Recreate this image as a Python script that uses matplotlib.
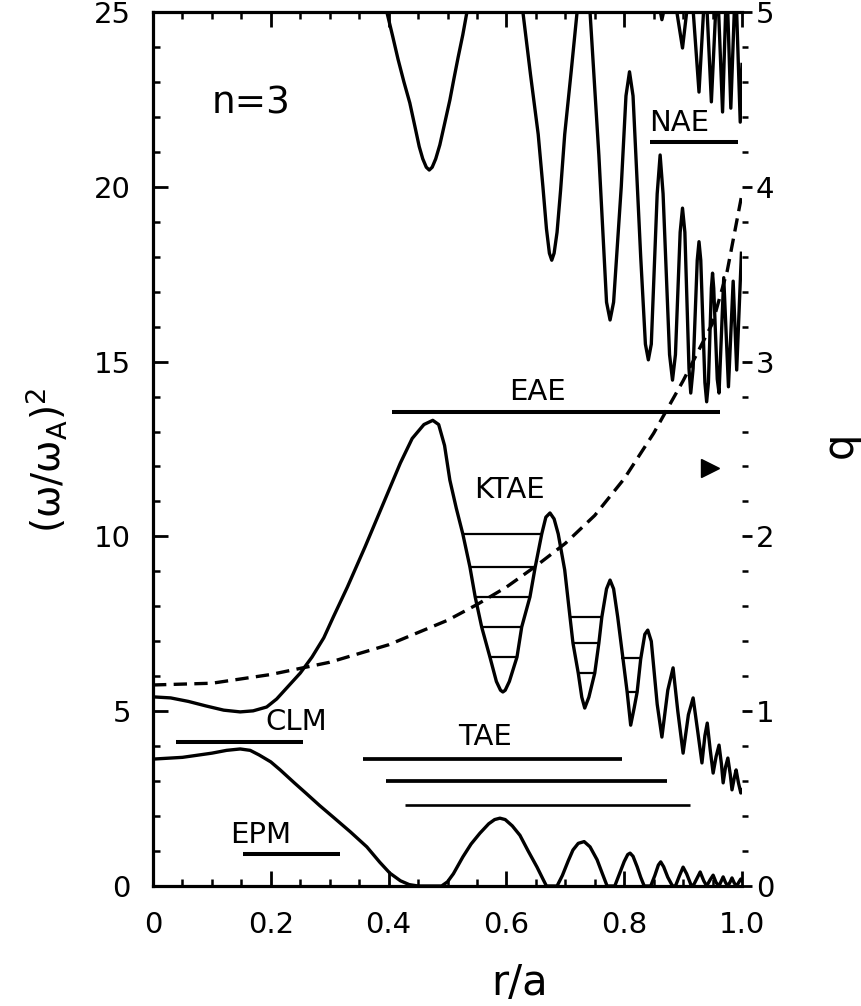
import numpy as np
import matplotlib
matplotlib.use('Agg')
import matplotlib.pyplot as plt
from matplotlib.ticker import MultipleLocator

# lower continuum branch
r_low = [0.0, 0.05, 0.10, 0.125, 0.148, 0.165, 0.18, 0.20, 0.216, 0.24, 0.26, 0.283, 0.306, 0.335,
         0.363, 0.385, 0.402, 0.42, 0.435, 0.45, 0.49,
         0.50, 0.51, 0.526, 0.54, 0.555, 0.57, 0.58, 0.589, 0.598, 0.61, 0.623, 0.637, 0.652, 0.662,
         0.668, 0.686, 0.695, 0.705, 0.713, 0.722, 0.732, 0.742, 0.754, 0.763, 0.771,
         0.784, 0.792, 0.800, 0.806, 0.810, 0.815, 0.822, 0.828, 0.834,
         0.845, 0.852, 0.858, 0.862, 0.867, 0.874, 0.882,
         0.887, 0.894, 0.900, 0.906, 0.913, 0.917,
         0.923, 0.929, 0.935, 0.940, 0.946, 0.951, 0.956, 0.961, 0.965, 0.968, 0.972, 0.976,
         0.980, 0.983, 0.987, 0.991, 0.995, 0.998, 1.0]
w_low = [3.63, 3.68, 3.80, 3.88, 3.92, 3.88, 3.75, 3.55, 3.32, 2.95, 2.65, 2.30, 1.97, 1.55,
         1.12, 0.68, 0.37, 0.15, 0.04, 0.0, 0.0,
         0.12, 0.35, 0.83, 1.20, 1.51, 1.78, 1.90, 1.94, 1.90, 1.72, 1.45, 1.00, 0.54, 0.20,
         0.0, 0.0, 0.30, 0.72, 1.03, 1.22, 1.27, 1.12, 0.75, 0.35, 0.0,
         0.0, 0.35, 0.70, 0.90, 0.94, 0.85, 0.55, 0.25, 0.0,
         0.0, 0.30, 0.60, 0.69, 0.55, 0.25, 0.0,
         0.0, 0.30, 0.54, 0.35, 0.05, 0.0,
         0.20, 0.40, 0.15, 0.0, 0.18, 0.31, 0.10, 0.0, 0.15, 0.26, 0.10, 0.0,
         0.12, 0.23, 0.08, 0.0, 0.12, 0.20, 0.15]

# middle continuum branch
r_mid = [0.0, 0.03, 0.06, 0.09, 0.12, 0.148, 0.17, 0.193, 0.21, 0.23, 0.25, 0.27, 0.29, 0.306,
         0.33, 0.36, 0.39, 0.42, 0.44, 0.46, 0.475, 0.485, 0.495, 0.504, 0.515,
         0.526, 0.538, 0.547, 0.558, 0.572, 0.583, 0.590, 0.594, 0.598, 0.605, 0.618,
         0.626, 0.640, 0.649, 0.660, 0.667, 0.674, 0.681, 0.688, 0.699, 0.708, 0.713, 0.722,
         0.728, 0.733, 0.740, 0.750, 0.757, 0.762, 0.770, 0.776, 0.782, 0.789, 0.798, 0.805,
         0.811, 0.817, 0.822, 0.828, 0.835, 0.840, 0.846, 0.856, 0.864, 0.874, 0.883, 0.891,
         0.900, 0.909, 0.917, 0.925, 0.932, 0.937, 0.941, 0.946, 0.951, 0.956, 0.961, 0.965,
         0.968, 0.972, 0.976, 0.980, 0.983, 0.987, 0.990, 0.994, 0.998, 1.0]
w_mid = [5.41, 5.38, 5.28, 5.15, 5.03, 4.98, 5.01, 5.12, 5.35, 5.72, 6.09, 6.55, 7.10, 7.69,
         8.55, 9.70, 10.90, 12.10, 12.80, 13.20, 13.32, 13.20, 12.60, 11.61, 10.80,
         10.07, 9.13, 8.27, 7.41, 6.55, 5.85, 5.60, 5.55, 5.60, 5.85, 6.55,
         7.41, 8.27, 9.13, 10.07, 10.55, 10.67, 10.50, 10.07, 9.04, 7.69, 6.95, 6.09,
         5.40, 5.09, 5.40, 6.09, 6.95, 7.69, 8.50, 8.75, 8.50, 7.69, 6.49, 5.55,
         4.60, 5.10, 5.55, 6.49, 7.20, 7.32, 7.00, 5.20, 4.26, 5.60, 6.24, 5.00,
         3.80, 4.90, 5.38, 4.40, 3.52, 4.30, 4.66, 3.90, 3.23, 3.70, 4.03, 3.50,
         2.95, 3.40, 3.66, 3.20, 2.75, 3.10, 3.32, 2.95, 2.66, 2.75]

# upper continuum branch
r_up = [0.385, 0.397, 0.407, 0.416, 0.426, 0.436, 0.445, 0.452, 0.458, 0.464, 0.469, 0.474, 0.480,
        0.487, 0.495, 0.504, 0.511, 0.518, 0.526, 0.533, 0.545,
        0.58, 0.615, 0.628, 0.641, 0.654, 0.662, 0.668, 0.673, 0.677, 0.681, 0.686, 0.692, 0.699,
        0.710, 0.720, 0.731, 0.742, 0.757,
        0.770, 0.776, 0.782, 0.795, 0.803, 0.809, 0.815, 0.828, 0.836, 0.841, 0.846, 0.856,
        0.861, 0.866, 0.877, 0.882, 0.887, 0.895, 0.899, 0.903, 0.910, 0.913, 0.917, 0.924,
        0.927, 0.930, 0.937, 0.940, 0.943, 0.948, 0.950, 0.952, 0.958, 0.961, 0.969, 0.977,
        0.985, 0.991, 0.999]
w_up = [26.5, 25.0, 24.3, 23.65, 23.0, 22.4, 21.7, 21.15, 20.8, 20.56, 20.48, 20.56, 20.8,
        21.2, 21.8, 22.48, 23.1, 23.7, 24.35, 25.0, 26.5,
        32.0, 26.5, 25.0, 23.2, 21.5, 20.0, 18.8, 18.1, 17.9, 18.1, 18.7, 19.9, 21.5,
        23.3, 25.0, 26.8, 25.0, 20.9,
        16.7, 16.19, 16.7, 20.0, 22.6, 23.29, 22.6, 18.0, 15.5, 15.05, 15.5, 19.8,
        20.91, 19.8, 15.2, 14.47, 15.2, 18.7, 19.39, 18.7, 14.8, 14.1, 14.8, 17.9,
        18.43, 17.9, 14.4, 13.85, 14.4, 17.1, 17.53, 17.1, 14.5, 14.1, 17.4, 14.28,
        17.3, 14.76, 18.1]

# highest branch, only its dips show
r_top = [0.850, 0.864, 0.880, 0.899, 0.913, 0.927, 0.938, 0.948, 0.958, 0.967, 0.974, 0.981,
         0.989, 0.997, 1.0]
w_top = [26.0, 24.78, 26.0, 23.97, 26.0, 22.71, 26.0, 22.43, 26.0, 22.14, 26.0, 22.25,
         26.0, 21.85, 23.5]

# safety factor profile
r_q = [0.0, 0.1, 0.2, 0.3, 0.4, 0.5, 0.55, 0.6, 0.65, 0.7, 0.75, 0.8, 0.85, 0.9, 0.95, 0.975, 1.0]
q_vals = [1.15, 1.16, 1.21, 1.28, 1.38, 1.52, 1.61, 1.71, 1.83, 1.96, 2.12, 2.33, 2.59, 2.89,
          3.22, 3.52, 3.96]

# gap mode frequencies
ktae_y = [10.07, 9.13, 8.27, 7.41, 6.55, 7.69, 6.95, 6.09, 6.52, 5.55]
ktae_r0 = [0.526, 0.538, 0.547, 0.558, 0.572, 0.708, 0.713, 0.722, 0.795, 0.803]
ktae_r1 = [0.660, 0.649, 0.640, 0.626, 0.618, 0.762, 0.757, 0.750, 0.829, 0.822]
tae_y = [3.63, 3.0, 2.32]
tae_r0 = [0.357, 0.396, 0.428]
tae_r1 = [0.796, 0.873, 0.912]
mode_names = ['NAE', 'EAE', 'CLM', 'EPM']
mode_y = [21.28, 13.56, 4.12, 0.92]
mode_r0 = [0.844, 0.406, 0.039, 0.153]
mode_r1 = [0.993, 0.963, 0.255, 0.317]

fig = plt.figure(figsize=(8.61, 10.06), dpi=100)
ax = fig.add_axes([153/861, 1-886/1006, 589/861, 874/1006])

lw = 2.4
ax.plot(r_low, w_low, color='black', lw=lw, solid_joinstyle='round')
ax.plot(r_mid, w_mid, color='black', lw=lw, solid_joinstyle='round')
ax.plot(r_up, w_up, color='black', lw=lw, solid_joinstyle='round')
ax.plot(r_top, w_top, color='black', lw=lw, solid_joinstyle='round')

ax.hlines(ktae_y, ktae_r0, ktae_r1, color='black', lw=1.6)
ax.hlines(tae_y, tae_r0, tae_r1, color='black', lw=[2.7, 2.7, 1.9])
ax.hlines(mode_y, mode_r0, mode_r1, color='black', lw=2.9)

ax.text(0.894, 21.82, 'NAE', fontsize=21, ha='center', va='center')
ax.text(0.652, 14.13, 'EAE', fontsize=21, ha='center', va='center')
ax.text(0.605, 11.33, 'KTAE', fontsize=21, ha='center', va='center')
ax.text(0.243, 4.69, 'CLM', fontsize=21, ha='center', va='center')
ax.text(0.563, 4.26, 'TAE', fontsize=21, ha='center', va='center')
ax.text(0.182, 1.46, 'EPM', fontsize=21, ha='center', va='center')
ax.text(0.167, 22.37, 'n=3', fontsize=27, ha='center', va='center')

ax.set_xlim(0, 1)
ax.set_ylim(0, 25)
ax.xaxis.set_major_locator(MultipleLocator(0.2))
ax.xaxis.set_minor_locator(MultipleLocator(0.05))
ax.yaxis.set_major_locator(MultipleLocator(5))
ax.yaxis.set_minor_locator(MultipleLocator(1))
ax.set_xticks([0, 0.2, 0.4, 0.6, 0.8, 1.0])
ax.set_xticklabels(['0', '0.2', '0.4', '0.6', '0.8', '1.0'])
ax.tick_params(which='both', direction='in', top=True, right=False, labelsize=21, width=2)
ax.tick_params(which='major', length=11)
ax.tick_params(which='minor', length=5, width=1.8)
ax.tick_params(axis='x', pad=18)
ax.tick_params(axis='y', pad=16)
ax.spines['right'].set_visible(False)
for s in ['left', 'top', 'bottom']:
    ax.spines[s].set_linewidth(2.3)

ax2 = ax.twinx()
ax2.plot(r_q, q_vals, color='black', lw=lw, linestyle=(0, (4, 2.2)))
ax2.plot([0.946], [2.39], marker='>', color='black', ms=13, linestyle='none')
ax2.set_ylim(0, 5)
ax2.yaxis.set_major_locator(MultipleLocator(1))
ax2.yaxis.set_minor_locator(MultipleLocator(0.2))
ax2.tick_params(which='both', direction='out', labelsize=21, width=2, pad=3)
ax2.tick_params(which='major', length=7)
ax2.tick_params(which='minor', length=4, width=1.8)
for s in ax2.spines.values():
    s.set_visible(False)

fig.text(46/861, 1-460/1006, '(ω/ω$_{\\mathregular{A}}$)$^{\\mathregular{2}}$', fontsize=28,
         rotation=90, ha='center', va='center')
fig.text(520/861, 1-983/1006, 'r/a', fontsize=30, ha='center', va='center')
fig.text(840/861, 1-445/1006, 'q', fontsize=30, rotation=90, ha='center', va='center')

fig.savefig('out.png', dpi=100)
